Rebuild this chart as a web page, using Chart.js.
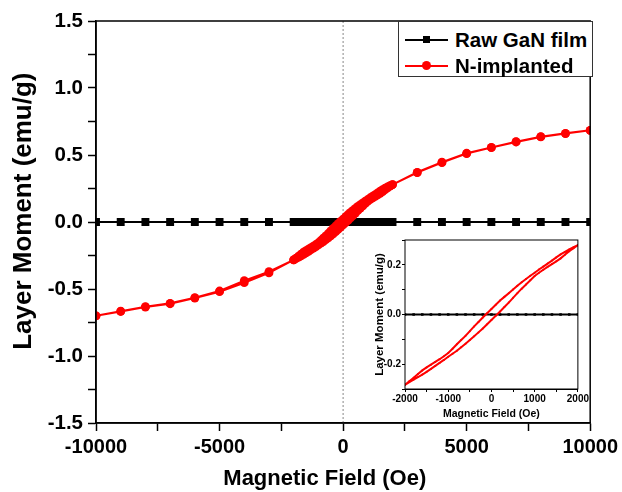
<!DOCTYPE html>
<html><head><meta charset="utf-8">
<script src="https://cdn.jsdelivr.net/npm/chart.js@4.4.1/dist/chart.umd.min.js"></script>
<style>
html,body{margin:0;padding:0;background:#fff;}
#wrap{position:relative;width:622px;height:492px;overflow:hidden;background:#fff;}
#main{position:absolute;left:0;top:0;}
#inset{position:absolute;left:362px;top:232px;}
#legend{position:absolute;left:398px;top:21px;width:195px;height:56px;border:1px solid #333;background:#fff;box-sizing:border-box;font:bold 20.5px Arial,"Liberation Sans",sans-serif;color:#000;}
.row{position:absolute;left:6px;height:24px;display:flex;align-items:center;white-space:nowrap;}
.sample{position:relative;width:43px;height:24px;margin-right:7px;}
.sample .ln{position:absolute;left:0;top:11px;width:43px;height:2px;}
.sample .mk{position:absolute;left:17px;top:7px;width:9px;height:9px;}
</style>
</head><body>
<div id="wrap">
<canvas id="main" width="622" height="492"></canvas>
<canvas id="inset" width="228" height="190"></canvas>
<div id="legend">
 <div class="row" style="top:6px"><div class="sample"><div class="ln" style="background:#000"></div><div class="mk" style="background:#000;left:18px;top:8px;width:7px;height:7px"></div></div><span id="lg0"></span></div>
 <div class="row" style="top:32px"><div class="sample"><div class="ln" style="background:#f00"></div><div class="mk" style="background:#f00;border-radius:50%"></div></div><span id="lg1"></span></div>
</div>
</div>
<script>
// ---- data ----
const seriesNames = ['Raw GaN film', 'N-implanted'];

const rawField = [-10000,-9000,-8000,-7000,-6000,-5000,-4000,-3000,
  -2000,-1800,-1600,-1400,-1200,-1000,-800,-600,-400,-200,0,200,400,600,800,1000,1200,1400,1600,1800,2000,
  3000,4000,5000,6000,7000,8000,9000,10000];
const rawMoment = [0,0,0,0,0,0,0,0,
  0,0,0,0,0,0,0,0,0,0,0,0,0,0,0,0,0,0,0,0,0,
  0,0,0,0,0,0,0,0];

// descending field branch (10000 -> -10000)
const downField = [10000,9000,8000,7000,6000,5000,4000,3000,
  2000,1900,1800,1700,1600,1500,1400,1300,1200,1100,1000,900,800,700,600,500,400,300,200,100,0,
  -100,-200,-300,-400,-500,-600,-700,-800,-900,-1000,-1100,-1200,-1300,-1400,-1500,-1600,-1700,-1800,-1900,-2000,
  -3000,-4000,-5000,-6000,-7000,-8000,-9000,-10000];
const downMoment = [0.684,0.662,0.637,0.599,0.557,0.513,0.446,0.371,
  0.279,0.271,0.262,0.252,0.242,0.230,0.217,0.205,0.193,0.181,0.168,0.156,0.143,0.130,0.116,0.101,0.086,0.071,0.056,0.039,0.022,
  0.005,-0.012,-0.030,-0.048,-0.067,-0.086,-0.103,-0.120,-0.138,-0.155,-0.168,-0.180,-0.191,-0.202,-0.213,-0.225,-0.240,-0.255,-0.269,-0.283,
  -0.370,-0.438,-0.515,-0.565,-0.607,-0.632,-0.665,-0.700];

// ascending field branch (-10000 -> 10000)
const upField = [-10000,-9000,-8000,-7000,-6000,-5000,-4000,-3000,
  -2000,-1900,-1800,-1700,-1600,-1500,-1400,-1300,-1200,-1100,-1000,-900,-800,-700,-600,-500,-400,-300,-200,-100,0,
  100,200,300,400,500,600,700,800,900,1000,1100,1200,1300,1400,1500,1600,1700,1800,1900,2000,
  3000,4000,5000,6000,7000,8000,9000,10000];
const upMoment = [-0.700,-0.668,-0.635,-0.610,-0.568,-0.520,-0.453,-0.380,
  -0.283,-0.272,-0.262,-0.252,-0.242,-0.231,-0.219,-0.207,-0.195,-0.183,-0.170,-0.158,-0.146,-0.132,-0.118,-0.103,-0.088,-0.072,-0.056,-0.039,-0.022,
  -0.005,0.012,0.030,0.048,0.067,0.086,0.104,0.121,0.138,0.155,0.168,0.180,0.192,0.203,0.214,0.226,0.241,0.255,0.267,0.279,
  0.368,0.443,0.511,0.555,0.597,0.635,0.660,0.684];

const xMajorTicks = [-10000,-5000,0,5000,10000];
const yMajorTicks = [-1.5,-1.0,-0.5,0.0,0.5,1.0,1.5];
const insetXMajorTicks = [-2000,-1000,0,1000,2000];
const insetYMajorTicks = [-0.2,0.0,0.2];

const xTitle = 'Magnetic Field (Oe)';
const yTitle = 'Layer Moment (emu/g)';

const FONT = 'Arial, "Liberation Sans", sans-serif';
Chart.defaults.font.family = FONT;
Chart.defaults.color = '#000';

document.getElementById('lg0').textContent = seriesNames[0];
document.getElementById('lg1').textContent = seriesNames[1];

const pts = (xs, ys) => xs.map((x, i) => ({x: x, y: ys[i]}));
const loopData = pts(downField, downMoment).concat(pts(upField, upMoment));
const rawData = pts(rawField, rawMoment);

const frame = {
  id: 'frame',
  beforeDatasetsDraw(chart, args, opts) {
    const a = chart.chartArea, c = chart.ctx;
    if (opts.fill) { c.save(); c.fillStyle = '#fff'; c.fillRect(a.left, a.top, a.right - a.left, a.bottom - a.top); c.restore(); }
    if (opts.zeroLine) {
      const x0 = chart.scales.x.getPixelForValue(0);
      c.save(); c.strokeStyle = '#888'; c.lineWidth = 1; c.setLineDash([2, 2]);
      c.beginPath(); c.moveTo(x0, a.top); c.lineTo(x0, a.bottom); c.stroke(); c.restore();
    }
  },
  afterDraw(chart, args, opts) {
    const a = chart.chartArea, c = chart.ctx;
    c.save(); c.strokeStyle = '#000'; c.lineWidth = opts.width || 1.5;
    c.strokeRect(a.left, a.top, a.right - a.left, a.bottom - a.top); c.restore();
  }
};

new Chart(document.getElementById('main'), {
  type: 'scatter',
  data: { datasets: [
    { label: seriesNames[1], data: loopData, showLine: true, borderColor: '#f00', backgroundColor: '#f00',
      borderWidth: 2, pointRadius: 4.4, pointStyle: 'circle', pointBorderWidth: 0, order: 0, clip: 0 },
    { label: seriesNames[0], data: rawData, showLine: true, borderColor: '#000', backgroundColor: '#000',
      borderWidth: 2, pointRadius: 5.6, pointStyle: 'rect', pointBorderWidth: 0, order: 1, clip: 0 }
  ]},
  options: {
    responsive: false, animation: false, devicePixelRatio: 1,
    layout: { padding: { left: 0, right: 29, top: 21, bottom: 0 } },
    plugins: { legend: { display: false }, tooltip: { enabled: false }, frame: { zeroLine: true, width: 1.5 } },
    scales: {
      x: { type: 'linear', min: -10000, max: 10000,
        afterFit: s => { s.height = 69; },
        ticks: { stepSize: 2500, autoSkip: false, maxRotation: 0, padding: 4, color: '#000',
          font: { size: 20, weight: 'bold' },
          callback: v => xMajorTicks.includes(v) ? String(v) : '' },
        grid: { drawOnChartArea: false, tickLength: 8, tickColor: '#000', tickWidth: 1.5 },
        border: { color: '#000', width: 1.5 },
        title: { display: true, text: xTitle + '      ', color: '#000', font: { size: 22, weight: 'bold' }, padding: { top: 0, bottom: 0 } }
      },
      y: { type: 'linear', min: -1.5, max: 1.5,
        afterFit: s => { s.width = 96; },
        ticks: { stepSize: 0.25, autoSkip: false, padding: 5, color: '#000',
          font: { size: 20.5, weight: 'bold' },
          callback: v => yMajorTicks.some(t => Math.abs(t - v) < 1e-6) ? v.toFixed(1) : '' },
        grid: { drawOnChartArea: false, tickLength: 8, tickColor: '#000', tickWidth: 1.5 },
        border: { color: '#000', width: 1.5 },
        title: { display: true, text: '   ' + yTitle, color: '#000', font: { size: 26, weight: 'bold' }, padding: { top: 8, bottom: 0 } }
      }
    }
  },
  plugins: [frame]
});

new Chart(document.getElementById('inset'), {
  type: 'scatter',
  data: { datasets: [
    { label: seriesNames[1], data: loopData, showLine: true, borderColor: '#f00', backgroundColor: '#f00',
      borderWidth: 2, pointRadius: 1, pointBorderWidth: 0, order: 0, clip: 0 },
    { label: seriesNames[0], data: rawData, showLine: true, borderColor: '#000', backgroundColor: '#000',
      borderWidth: 2, pointRadius: 1.8, pointStyle: 'rect', pointBorderWidth: 0, order: 1, clip: 0 }
  ]},
  options: {
    responsive: false, animation: false, devicePixelRatio: 1,
    layout: { padding: { left: 0, right: 10, top: 8, bottom: 0 } },
    plugins: { legend: { display: false }, tooltip: { enabled: false }, frame: { fill: true, width: 1 } },
    scales: {
      x: { type: 'linear', min: -2000, max: 2000,
        afterFit: s => { s.height = 33; },
        ticks: { stepSize: 500, autoSkip: false, maxRotation: 0, padding: 1, color: '#000',
          font: { size: 10, weight: 'bold' },
          callback: v => insetXMajorTicks.includes(v) ? String(v) : '' },
        grid: { drawOnChartArea: false, tickLength: 3, tickColor: '#000', tickWidth: 1 },
        border: { color: '#000', width: 1 },
        title: { display: true, text: xTitle, color: '#000', font: { size: 10.5, weight: 'bold' }, padding: { top: 0, bottom: 2 } }
      },
      y: { type: 'linear', min: -0.3, max: 0.3,
        afterFit: s => { s.width = 43; },
        ticks: { stepSize: 0.1, autoSkip: false, padding: 1, color: '#000',
          font: { size: 10, weight: 'bold' },
          callback: v => insetYMajorTicks.some(t => Math.abs(t - v) < 1e-6) ? v.toFixed(1) : '' },
        grid: { drawOnChartArea: false, tickLength: 3, tickColor: '#000', tickWidth: 1 },
        border: { color: '#000', width: 1 },
        title: { display: true, text: yTitle, color: '#000', font: { size: 11.5, weight: 'bold' }, padding: { top: 11, bottom: 0 } }
      }
    }
  },
  plugins: [frame]
});
</script>
</body></html>
